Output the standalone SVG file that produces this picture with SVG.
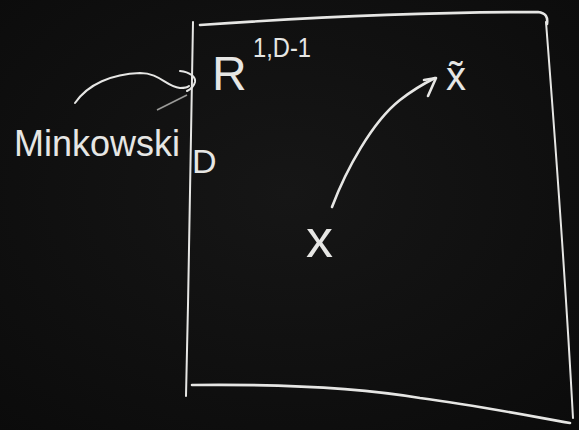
<svg xmlns="http://www.w3.org/2000/svg" width="579" height="430" viewBox="0 0 579 430">
  <style>
    .chalk { fill: none; stroke: #e6e6e4; stroke-width: 2.6; stroke-linecap: round; stroke-linejoin: round; }
    .thin { stroke-width: 2; }
    .faint { stroke: #9a9a98; stroke-width: 1.6; }
    .txt { fill: #e6e6e4; font-family: "Liberation Sans", "DejaVu Sans", sans-serif; }
  </style>
  <defs>
    <radialGradient id="board" cx="50%" cy="45%" r="75%">
      <stop offset="0" stop-color="#161616"/>
      <stop offset="1" stop-color="#0b0b0b"/>
    </radialGradient>
  </defs>

  <!-- blackboard -->
  <rect width="579" height="430" fill="url(#board)"/>

  <!-- the region: a hand-drawn box -->
  <g id="region">
    <path class="chalk thin" d="M193 22 C191 140 189 270 186 396"/>
    <path class="chalk" d="M200 25 C300 18 420 12 538 12 C546 13 548 17 547 24"/>
    <path class="chalk thin" d="M546 22 C556 150 566 290 573 418"/>
    <path class="chalk" d="M192 385 C280 384 360 388 420 398 C480 406 530 416 570 423"/>
  </g>

  <!-- label: R^{1,D-1} -->
  <g id="label-space">
    <text class="txt" x="212" y="90" font-size="48">R</text>
    <text class="txt" x="253" y="57" font-size="28" textLength="58" lengthAdjust="spacingAndGlyphs">1,D-1</text>
  </g>

  <!-- label: Minkowski D -->
  <g id="label-minkowski">
    <text class="txt" x="14" y="156" font-size="37" textLength="166" lengthAdjust="spacingAndGlyphs">Minkowski</text>
    <text class="txt" x="192" y="173" font-size="34">D</text>
  </g>

  <!-- points -->
  <g id="point-x">
    <text class="txt" x="306" y="257" font-size="54">x</text>
  </g>
  <g id="point-xtilde">
    <text class="txt" x="446" y="90" font-size="40" font-family="DejaVu Sans, sans-serif">x̃</text>
  </g>

  <!-- connectors -->
  <g id="connectors">
    <!-- Minkowski -> R^{1,D-1} -->
    <path class="chalk thin" d="M75 103 C88 84 112 74 140 73 C160 73 165 86 180 88 C186 88 188 87 189 86"/>
    <path class="chalk thin" d="M180 71 C190 72 196 77 195 82 C194 86 191 89 187 91"/>
    <path class="faint" d="M157 110 L187 95"/>
    <!-- x -> x~ -->
    <path class="chalk" d="M332 207 C346 170 372 122 400 100 C414 89 425 83 435 78"/>
    <path class="chalk" d="M424 80 L436 78 L428 96"/>
  </g>
</svg>
